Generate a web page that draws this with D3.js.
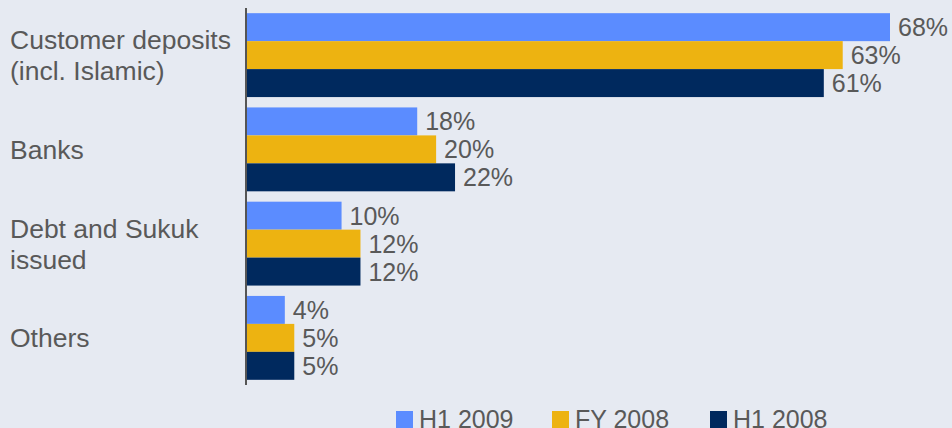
<!DOCTYPE html>
<html>
<head>
<script src="https://cdn.jsdelivr.net/npm/d3@7"></script>
<style>
  html, body { margin: 0; padding: 0; background: #e6eaf2; }
  svg { display: block; font-family: "Liberation Sans", Arial, sans-serif; }
</style>
</head>
<body>
<svg id="chart" width="952" height="428"></svg>
<script>
var categories = [["Customer deposits", "(incl. Islamic)"], ["Banks"], ["Debt and Sukuk", "issued"], ["Others"]];
var seriesNames = ["H1 2009", "FY 2008", "H1 2008"];
var h1_2009 = [68, 18, 10, 4];
var fy_2008 = [63, 20, 12, 5];
var h1_2008 = [61, 22, 12, 5];
var colors = ["#5b8cff", "#edb311", "#00295e"];

var svg = d3.select("#chart");
var series = [h1_2009, fy_2008, h1_2008];

var x = d3.scaleLinear().domain([0, 68]).range([247, 890]);
var y0 = d3.scaleBand().domain(d3.range(categories.length)).range([8, 385])
    .paddingInner(0.11).paddingOuter(0.055);
var y1 = d3.scaleBand().domain(d3.range(series.length)).range([0, y0.bandwidth()]);

var groups = svg.selectAll("g.grp").data(categories).enter().append("g")
    .attr("class", "grp")
    .attr("transform", function(d, i) { return "translate(0," + y0(i) + ")"; });

groups.each(function(cat, ci) {
  var g = d3.select(this);
  series.forEach(function(s, si) {
    g.append("rect")
      .attr("x", x(0))
      .attr("y", y1(si))
      .attr("width", x(s[ci]) - x(0))
      .attr("height", y1.bandwidth())
      .attr("fill", colors[si]);
    g.append("text")
      .attr("x", x(s[ci]) + 8)
      .attr("y", y1(si) + y1.bandwidth() / 2)
      .attr("dy", "0.36em")
      .attr("font-size", 25)
      .attr("fill", "#595959")
      .text(s[ci] + "%");
  });
  var t = g.append("text")
    .attr("x", 10)
    .attr("font-size", 26.5)
    .attr("fill", "#595959");
  var lh = 31;
  cat.forEach(function(line, li) {
    t.append("tspan")
      .attr("x", 10)
      .attr("y", y0.bandwidth() / 2 + (li - (cat.length - 1) / 2) * lh)
      .attr("dy", "0.36em")
      .text(line);
  });
});

// axis line
svg.append("line")
  .attr("x1", 246).attr("x2", 246)
  .attr("y1", y0.range()[0]).attr("y2", y0.range()[1])
  .attr("stroke", "#555").attr("stroke-width", 2);

// legend
var legendX = [396, 552, 710];
var leg = svg.selectAll("g.leg").data(seriesNames).enter().append("g")
  .attr("class", "leg")
  .attr("transform", function(d, i) { return "translate(" + legendX[i] + ",411)"; });
leg.append("rect").attr("width", 17).attr("height", 17)
  .attr("fill", function(d, i) { return colors[i]; });
leg.append("text").attr("x", 23).attr("y", 17)
  .attr("font-size", 25).attr("fill", "#595959")
  .text(function(d) { return d; });
</script>
</body>
</html>
